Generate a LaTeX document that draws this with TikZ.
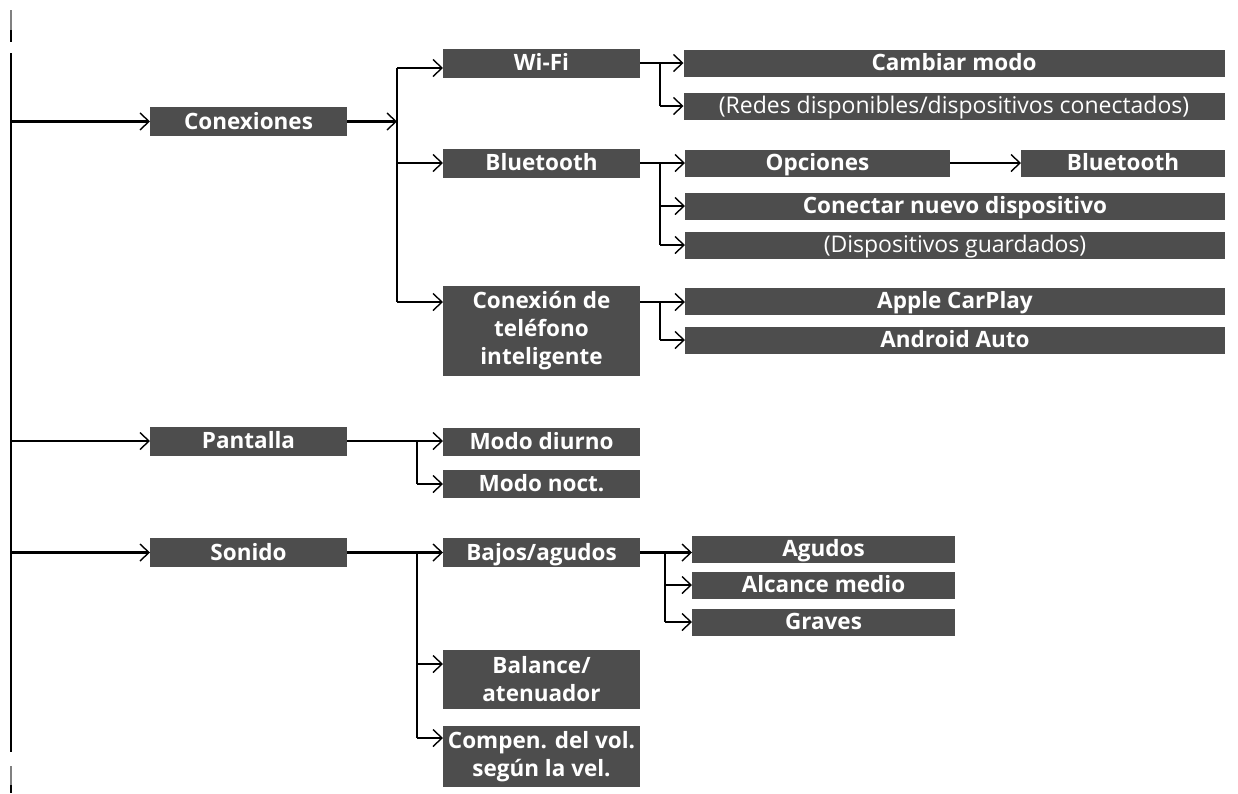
\documentclass[tikz,border=0pt]{standalone}
\usepackage{fontspec}
\setmainfont{Open Sans}
\usetikzlibrary{arrows.meta,positioning,calc}
\definecolor{boxc}{RGB}{77,77,77}
\tikzset{
  menu/.style  = {fill=boxc, text=white, align=center, inner sep=0pt, outer sep=0pt,
                  font=\fontsize{22.5}{28}\selectfont\bfseries, minimum height=29pt},
  one/.style   = {menu, text height=19pt, text depth=4pt},
  lvl1/.style  = {one, minimum width=197pt},
  lvl2/.style  = {one, minimum width=197pt},
  tall/.style  = {menu, minimum width=197pt},
  wide/.style  = {one, minimum width=541pt, minimum height=27pt},
  note/.style  = {wide, font=\fontsize{23}{28}\selectfont},
  short/.style = {one, minimum height=27pt},
  line/.style  = {line width=2.2pt},
  link/.style  = {line width=2.2pt, -{Straight Barb[length=9pt,width=17pt,line width=1.4pt]}},
}

\begin{document}
\begin{tikzpicture}[x=1pt,y=-1pt]
\useasboundingbox (0,0) rectangle (1238,793);

% ---- trunk ----
\draw[line, gray] (11,10) -- (11,30);
\draw[line] (11,30) -- (11,42);
\coordinate (ttop) at (11,53);
\coordinate (tbot) at (11,752);
\draw[line] (ttop) -- (tbot);
\draw[line, gray] (11,766) -- (11,785);
\draw[line] (11,785) -- (11,793);

% ---- level 1 ----
\node[lvl1] (conex) at (248.5,121.5) {Conexiones};
\node[lvl1] (pant)  at (248.5,441)   {Pantalla};
\node[lvl1] (son)   at (248.5,552.5) {Sonido};
\draw[link] (ttop |- conex) -- (conex.west);
\draw[link] (ttop |- pant)  -- (pant.west);
\draw[link] (ttop |- son)   -- (son.west);

% ---- Conexiones ----
\node[lvl2] (wifi)  at (541.5,63)  {Wi-Fi};
\node[lvl2] (bt)    at (541.5,163) {Bluetooth};
\node[tall, minimum height=90pt] (phone) at (541.5,331)
      {Conexión de\\teléfono\\inteligente};
\coordinate (bc1) at (397,68);
\coordinate (bc2) at (397,302);
\draw[link] (conex.east) -- (conex.east -| bc1);
\draw[line] (bc1) -- (bc2);
\draw[link] (bc1) -- (bc1 -| wifi.west);
\draw[link] (bc1 |- bt) -- (bt.west);
\draw[link] (bc2) -- (bc2 -| phone.west);

% ---- Wi-Fi ----
\node[wide] (modo)  at (954,63)  {Cambiar modo};
\node[note] (redes) at (954,106) {(Redes disponibles/dispositivos conectados)};
\coordinate (bw) at (660,63);
\draw[link] (wifi.east) -- (modo.west);
\draw[line] (bw) -- (bw |- redes);
\draw[link] (bw |- redes) -- (redes.west);

% ---- Bluetooth ----
\node[short, minimum width=265pt] (opc)  at (817.5,163) {Opciones};
\node[short, minimum width=204pt] (bt2)  at (1123,163)  {Bluetooth};
\node[wide, minimum width=540pt]  (nuevo) at (955,206)  {Conectar nuevo dispositivo};
\node[note, minimum width=540pt]  (guard) at (955,245)  {(Dispositivos guardados)};
\coordinate (bb) at (660,163);
\draw[link] (bt.east) -- (opc.west);
\draw[link] (opc.east) -- (bt2.west);
\draw[line] (bb) -- (bb |- guard);
\draw[link] (bb |- nuevo) -- (nuevo.west);
\draw[link] (bb |- guard) -- (guard.west);

% ---- phone ----
\node[wide, minimum width=540pt] (carplay) at (955,301) {Apple CarPlay};
\node[wide, minimum width=540pt] (andr)    at (955,340) {Android Auto};
\coordinate (bp1) at (660,302);
\draw[line] (bp1 -| phone.east) -- (bp1);
\draw[link] (bp1) -- (bp1 -| carplay.west);
\draw[line] (bp1) -- (bp1 |- andr);
\draw[link] (bp1 |- andr) -- (andr.west);

% ---- Pantalla ----
\node[lvl2, minimum height=28pt] (dia)   at (541.5,442) {Modo diurno};
\node[lvl2, minimum height=28pt] (noche) at (541.5,484) {Modo noct.};
\coordinate (bd) at (417,441);
\draw[line] (pant.east) -- (bd);
\draw[link] (bd) -- (bd -| dia.west);
\draw[line] (bd) -- (bd |- noche);
\draw[link] (bd |- noche) -- (noche.west);

% ---- Sonido ----
\node[lvl2] (bajos) at (541.5,552.5) {Bajos/agudos};
\node[tall, minimum height=59pt] (bal) at (541.5,679.5) {Balance/\\atenuador};
\node[tall, minimum height=61pt] (comp) at (541.5,756.5) {Compen. del vol.\\según la vel.};
\coordinate (bs1) at (417,552.5);
\coordinate (bsm) at (417,664);
\coordinate (bs2) at (417,738);
\draw[line] (son.east) -- (bs1);
\draw[link] (bs1) -- (bs1 -| bajos.west);
\draw[line] (bs1) -- (bs2);
\draw[link] (bsm) -- (bsm -| bal.west);
\draw[link] (bs2) -- (bs2 -| comp.west);

% ---- Bajos/agudos ----
\node[short, minimum width=263pt] (agu)  at (823.5,549) {Agudos};
\node[short, minimum width=263pt] (med)  at (823.5,585) {Alcance medio};
\node[short, minimum width=263pt] (grav) at (823.5,622) {Graves};
\coordinate (bg) at (665,552.5);
\draw[line] (bajos.east) -- (bg);
\draw[link] (bg) -- (bg -| agu.west);
\draw[line] (bg) -- (bg |- grav);
\draw[link] (bg |- med) -- (med.west);
\draw[link] (bg |- grav) -- (grav.west);

\end{tikzpicture}
\end{document}
